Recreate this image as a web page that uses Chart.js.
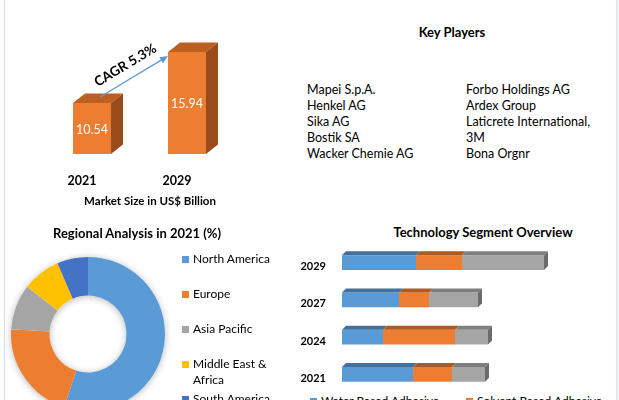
<!DOCTYPE html>
<html>
<head>
<meta charset="utf-8">
<script src="https://cdn.jsdelivr.net/npm/chart.js@4.4.0/dist/chart.umd.min.js"></script>
<style>
  html, body { margin: 0; padding: 0; background: #fff; }
  body { width: 619px; height: 400px; position: relative; overflow: hidden; font-family: Lato, "Open Sans", sans-serif; color: #000; }
  canvas { display: block; }
  .abs { position: absolute; }
  .ttl { position: absolute; font-weight: bold; font-size: 13px; line-height: 18px; white-space: nowrap; transform: translateX(-50%); }
  .edge { position: absolute; top: 0; width: 1px; height: 400px; }
  .col { position: absolute; font-size: 12.5px; line-height: 16px; white-space: nowrap; }
  .lg { position: absolute; font-size: 12px; line-height: 16px; }
  .lg i { position: absolute; left: 0; top: 4.5px; width: 7px; height: 7px; }
  .lg span { position: absolute; left: 11px; }
</style>
</head>
<body>
<div class="edge" style="left:4px;background:#cddff3"></div>
<div class="edge" style="left:616px;width:2px;background:#e2e6ec"></div>
<div class="abs" style="left:486px;top:-8px;font:bold 9px 'Liberation Serif',serif;color:#3c3f98;letter-spacing:0.3px;white-space:nowrap">MARKET RESEARCH PVT. LTD.</div>

<div class="abs" style="left:0;top:0;width:300px;height:215px"><canvas id="marketChart"></canvas></div>
<div class="ttl" style="left:150px;top:192px;font-size:11.5px">Market Size in US$ Billion</div>

<div class="ttl" style="left:452px;top:23px">Key Players</div>
<div class="col" id="playersA" style="left:307px;top:82px"></div>
<div class="col" id="playersB" style="left:466px;top:82px"></div>

<div class="ttl" style="left:137px;top:224px">Regional Analysis in 2021 (%)</div>
<div class="abs" style="left:-2px;top:244px;width:180px;height:180px"><canvas id="regionChart"></canvas></div>
<div id="regionLegend"></div>

<div class="ttl" style="left:483px;top:223px">Technology Segment Overview</div>
<div class="abs" style="left:290px;top:244px;width:290px;height:149px"><canvas id="techChart"></canvas></div>
<div id="techLegend"></div>

<script>
// market size
const years = ['2021', '2029'];
const marketSize = [10.54, 15.94];
const marketAxisMin = 5.14;
const marketAxisMax = 17;
const cagrText = 'CAGR 5.3%';

// key players
const playersLeft = ['Mapei S.p.A.', 'Henkel AG', 'Sika AG', 'Bostik SA', 'Wacker Chemie AG'];
const playersRight = ['Forbo Holdings AG', 'Ardex Group', 'Laticrete International,', '3M', 'Bona Orgnr'];

// regional share 2021 (%)
const regions = ['North America', 'Europe', 'Asia Pacific', 'Middle East & Africa', 'South America'];
const regionShare = [55, 21, 9.5, 8, 6.5];
const regionColors = ['#5b9bd5', '#ed7d31', '#a5a5a5', '#ffc000', '#4472c4'];

// technology segments
const segYears = ['2029', '2027', '2024', '2021'];
const waterBased = [7.4, 5.7, 4.1, 7.1];
const solventBased = [4.6, 3.0, 7.2, 3.9];
const otherTech = [8.2, 4.9, 3.3, 3.3];

document.getElementById('playersA').innerHTML = playersLeft.join('<br>');
document.getElementById('playersB').innerHTML = playersRight.join('<br>');

// fake 3d faces on top of chart.js bars
const bar3d = {
  id: 'bar3d',
  afterDatasetsDraw(chart, args, opts) {
    const ctx = chart.ctx;
    const dx = opts.dx, dy = opts.dy;
    const last = chart.data.datasets.length - 1;
    chart.data.datasets.forEach((ds, i) => {
      chart.getDatasetMeta(i).data.forEach(bar => {
        const p = bar.getProps(['x', 'y', 'base', 'width', 'height'], true);
        let l, r, t, b;
        if (chart.options.indexAxis === 'y') {
          l = Math.min(p.base, p.x); r = Math.max(p.base, p.x);
          t = p.y - p.height / 2; b = p.y + p.height / 2;
        } else {
          l = p.x - p.width / 2; r = p.x + p.width / 2;
          t = Math.min(p.y, p.base); b = Math.max(p.y, p.base);
        }
        ctx.save();
        ctx.fillStyle = ds.topColor;
        ctx.beginPath();
        ctx.moveTo(l, t); ctx.lineTo(l + dx, t - dy); ctx.lineTo(r + dx, t - dy); ctx.lineTo(r, t);
        ctx.closePath(); ctx.fill();
        if (i === last) {
          ctx.fillStyle = ds.sideColor;
          ctx.beginPath();
          ctx.moveTo(r, t); ctx.lineTo(r + dx, t - dy); ctx.lineTo(r + dx, b - dy); ctx.lineTo(r, b);
          ctx.closePath(); ctx.fill();
        }
        ctx.restore();
      });
    });
  }
};

const marketLabels = {
  id: 'marketLabels',
  afterDatasetsDraw(chart) {
    const ctx = chart.ctx;
    const bars = chart.getDatasetMeta(0).data;
    ctx.save();
    ctx.fillStyle = '#fff';
    ctx.font = '12.5px Lato';
    ctx.textAlign = 'center';
    ctx.textBaseline = 'middle';
    bars.forEach((bar, i) => {
      ctx.fillText(marketSize[i].toFixed(2), bar.x, (bar.y + bar.base) / 2 + 1);
    });
    // growth arrow
    const a = bars[0], c = bars[1];
    const x1 = a.x + 8, y1 = a.y - 6;
    const x2 = c.x - c.width / 2, y2 = c.y + 4;
    const ang = Math.atan2(y2 - y1, x2 - x1);
    ctx.strokeStyle = '#5b9bd5';
    ctx.fillStyle = '#5b9bd5';
    ctx.lineWidth = 1.3;
    ctx.beginPath();
    ctx.moveTo(x1, y1);
    ctx.lineTo(x2 - 6 * Math.cos(ang), y2 - 6 * Math.sin(ang));
    ctx.stroke();
    ctx.beginPath();
    ctx.moveTo(x2, y2);
    ctx.lineTo(x2 - 8 * Math.cos(ang) + 3.5 * Math.sin(ang), y2 - 8 * Math.sin(ang) - 3.5 * Math.cos(ang));
    ctx.lineTo(x2 - 8 * Math.cos(ang) - 3.5 * Math.sin(ang), y2 - 8 * Math.sin(ang) + 3.5 * Math.cos(ang));
    ctx.closePath();
    ctx.fill();
    const mx = (x1 + x2) / 2 + 13 * Math.sin(ang) - 2;
    const my = (y1 + y2) / 2 - 13 * Math.cos(ang);
    ctx.translate(mx, my);
    ctx.rotate(ang);
    ctx.fillStyle = '#000';
    ctx.font = 'bold 13.5px Lato';
    ctx.fillText(cagrText, 0, 0);
    ctx.restore();
  }
};

new Chart(document.getElementById('marketChart'), {
  type: 'bar',
  data: {
    labels: years,
    datasets: [{
      data: marketSize,
      base: marketAxisMin,
      backgroundColor: '#ed7d31',
      topColor: '#bd5f21',
      sideColor: '#9a4b1a',
      barPercentage: 1,
      categoryPercentage: 0.4
    }]
  },
  options: {
    responsive: true,
    maintainAspectRatio: false,
    animation: false,
    events: [],
    layout: { autoPadding: false, padding: { left: 44.5, right: 65.5, top: 42, bottom: 0 } },
    plugins: { legend: { display: false }, tooltip: { enabled: false }, bar3d: { dx: 12, dy: 9.5 } },
    scales: {
      y: { display: false, min: marketAxisMin, max: marketAxisMax },
      x: {
        grid: { display: false, drawTicks: false },
        border: { display: false },
        ticks: { color: '#000', font: { family: 'Lato', size: 12.5, weight: 'bold' }, padding: 19, labelOffset: -10, maxRotation: 0 },
        afterFit(scale) { scale.height = 61; }
      }
    }
  },
  plugins: [bar3d, marketLabels]
});

// soft shadow behind the ring
const ringShadow = {
  id: 'ringShadow',
  beforeDatasetsDraw(chart) {
    const arc = chart.getDatasetMeta(0).data[0];
    if (!arc) return;
    const p = arc.getProps(['x', 'y', 'outerRadius', 'innerRadius'], true);
    const ctx = chart.ctx;
    ctx.save();
    ctx.shadowColor = 'rgba(0,0,0,0.28)';
    ctx.shadowBlur = 7;
    ctx.shadowOffsetY = 1;
    ctx.fillStyle = '#fff';
    ctx.beginPath();
    ctx.arc(p.x, p.y, p.outerRadius, 0, Math.PI * 2);
    ctx.arc(p.x, p.y, p.innerRadius, 0, Math.PI * 2, true);
    ctx.fill('evenodd');
    ctx.restore();
  }
};

new Chart(document.getElementById('regionChart'), {
  type: 'doughnut',
  data: {
    labels: regions,
    datasets: [{ data: regionShare, backgroundColor: regionColors, borderWidth: 0 }]
  },
  options: {
    responsive: true,
    maintainAspectRatio: false,
    animation: false,
    events: [],
    cutout: '50%',
    layout: { padding: 13 },
    plugins: { legend: { display: false }, tooltip: { enabled: false } }
  },
  plugins: [ringShadow]
});

document.getElementById('regionLegend').innerHTML = regions.map((name, i) =>
  `<div class="lg" style="left:182px;top:${251 + 35 * i}px;width:100px"><i style="background:${regionColors[i]}"></i><span style="width:86px">${name.replace('&', '&amp;')}</span></div>`
).join('');

new Chart(document.getElementById('techChart'), {
  type: 'bar',
  data: {
    labels: segYears,
    datasets: [
      { label: 'Water Based Adhesive', data: waterBased, backgroundColor: '#5b9bd5', topColor: '#41719c' },
      { label: 'Solvent Based Adhesive', data: solventBased, backgroundColor: '#ed7d31', topColor: '#ae5a21' },
      { label: 'Others', data: otherTech, backgroundColor: '#a5a5a5', topColor: '#7f7f7f', sideColor: '#6b6b6b' }
    ]
  },
  options: {
    indexAxis: 'y',
    responsive: true,
    maintainAspectRatio: false,
    animation: false,
    events: [],
    datasets: { bar: { barPercentage: 0.4, categoryPercentage: 1 } },
    layout: { autoPadding: false, padding: { left: 0, right: 18, top: 0, bottom: 0 } },
    plugins: { legend: { display: false }, tooltip: { enabled: false }, bar3d: { dx: 4, dy: 4 } },
    scales: {
      x: { display: false, stacked: true, min: 0, max: 22 },
      y: {
        stacked: true,
        grid: { display: false, drawTicks: false },
        border: { display: false },
        ticks: { color: '#000', font: { family: 'Lato', size: 11, weight: 'bold' }, padding: 16, labelOffset: 4 },
        afterFit(scale) { scale.width = 52; scale.paddingTop = 0; scale.paddingBottom = 0; }
      }
    }
  },
  plugins: [bar3d]
});

const techLegendItems = [['Water Based Adhesive', '#5b9bd5', 310], ['Solvent Based Adhesive', '#ed7d31', 466]];
document.getElementById('techLegend').innerHTML = techLegendItems.map(it =>
  `<div class="lg" style="left:${it[2]}px;top:393px;white-space:nowrap"><i style="background:${it[1]}"></i><span>${it[0]}</span></div>`
).join('');
</script>
</body>
</html>
